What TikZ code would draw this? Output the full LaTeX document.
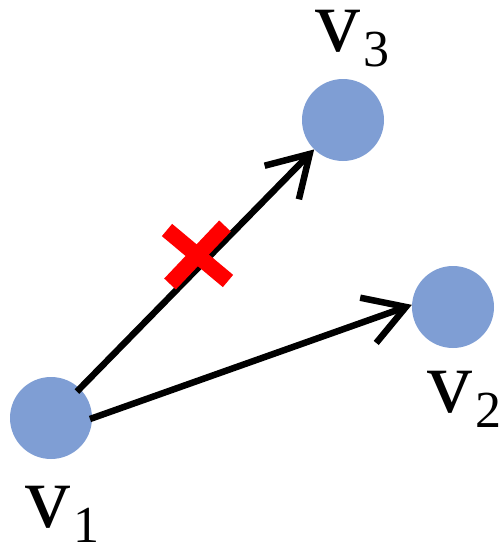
\documentclass[tikz,border=0pt]{standalone}
\usepackage{fontspec}
\setmainfont{Liberation Serif}
\usetikzlibrary{arrows.meta,calc}
\definecolor{nodeblue}{RGB}{127,158,212}
\definecolor{xred}{RGB}{255,0,0}
\newcommand{\vlabel}[1]{{\fontsize{90}{100}\selectfont v\kern3pt\raisebox{-15pt}{\fontsize{52}{60}\selectfont #1}}}
\begin{document}
\begin{tikzpicture}[x=1pt,y=-1pt,
  vert/.style={circle,fill=nodeblue,minimum size=82pt,inner sep=0pt},
  lbl/.style={anchor=base west,inner sep=0pt,outer sep=0pt},
  arr/.style={line width=6.5pt,-{Straight Barb[length=40pt,width=48pt]}},
  crossbar/.style={line width=16pt,xred,line cap=butt}]
\useasboundingbox (0,0) rectangle (500,552);
\node[vert] (v1) at (51,418) {};
\node[vert] (v2) at (453,307) {};
\node[vert] (v3) at (343,120) {};
\node[lbl] (l1) at (25,527) {\vlabel{1}};
\node[lbl] (l2) at (427,412) {\vlabel{2}};
\node[lbl] (l3) at (315,51) {\vlabel{3}};
\coordinate (s3) at ($(v1.center)!37pt!(v3.center)$);
\coordinate (s2) at (90,419);
\draw[arr] (s3) -- (v3);
\draw[arr] (s2) -- (v2.177);
\coordinate (c1a) at (167,230);
\coordinate (c1b) at (228,281);
\coordinate (c2a) at (225,226);
\coordinate (c2b) at (170,284);
\draw[crossbar] (c1a) -- (c1b);
\draw[crossbar] (c2a) -- (c2b);
\end{tikzpicture}
\end{document}
